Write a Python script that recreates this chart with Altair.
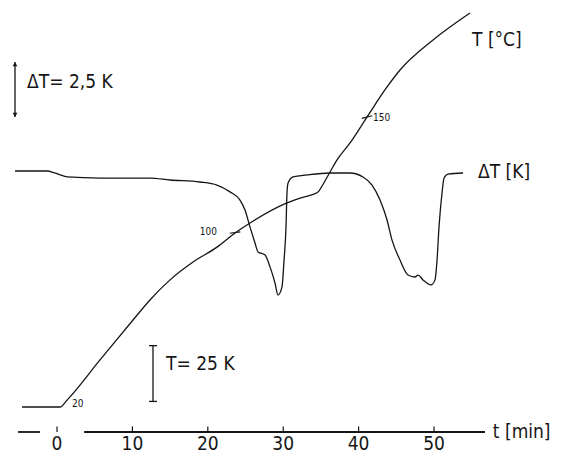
import altair as alt
import pandas as pd

# ---- data ----
# Temperature curve T [°C] versus time t [min]
t_T = [-4.64, 0.40, 1.33, 5.70, 10.08, 12.33, 14.99, 18.04, 21.22, 23.61, 25.60,
       30.50, 32.23, 34.62, 35.15, 36.21, 37.14, 38.86, 41.11, 43.77, 45.49, 49.87, 54.77]
T_vals = [20.0, 20.0, 23.1, 41.1, 59.0, 68.0, 77.0, 85.0, 91.7, 98.0, 102.5,
          111.5, 113.7, 116.4, 119.1, 125.4, 130.8, 138.4, 150.0, 163.5, 171.1, 184.6, 196.7]

# Differential temperature curve ΔT [K] versus time t [min]
t_dT = [-5.57, -1.33, -0.27, 1.33, 5.70, 12.33, 14.99, 18.96, 21.22, 22.94, 24.27,
        24.93, 25.60, 26.26, 26.66, 27.59, 28.25, 28.91, 29.31, 29.84, 30.11, 30.37,
        30.50, 30.64, 31.30, 33.16, 36.21, 38.86, 40.58, 41.78, 42.84, 43.77, 44.43,
        45.49, 46.55, 47.48, 47.88, 48.54, 49.60, 50.13, 50.40, 50.66, 51.06, 51.33,
        51.86, 53.85]
dT_vals = [0.0, 0.0, -0.09, -0.27, -0.32, -0.32, -0.41, -0.50, -0.64, -0.95, -1.32,
           -1.77, -2.55, -3.27, -3.68, -3.82, -4.36, -5.09, -5.64, -5.27, -4.05, -2.55,
           -1.00, -0.55, -0.27, -0.18, -0.09, -0.09, -0.27, -0.64, -1.32, -2.23, -3.14,
           -4.05, -4.73, -4.82, -4.73, -4.95, -5.18, -4.95, -4.05, -2.55, -1.00, -0.32,
           -0.14, -0.09]

# time axis
time_ticks = [0, 10, 20, 30, 40, 50]
time_tick_labels = ["0", "10", "20", "30", "40", "50"]

# temperature marks on the T curve
T_mark_t = [23.61, 41.11]
T_mark_T = [98.2, 150.0]
T_mark_labels = ["20", "100", "150"]

FONT = "Liberation Sans Narrow, DejaVu Sans Condensed, Liberation Sans, sans-serif"
INK = "#151515"

xs = alt.Scale(domain=[-6.50, 66.31], nice=False, zero=False)
Ts = alt.Scale(domain=[-0.63, 198.92], nice=False, zero=False)
dTs = alt.Scale(domain=[-12.82, 7.41], nice=False, zero=False)

X = lambda f: alt.X(f, type="quantitative", scale=xs, axis=None)
YT = lambda f: alt.Y(f, type="quantitative", scale=Ts, axis=None)
YD = lambda f: alt.Y(f, type="quantitative", scale=dTs, axis=None)

df_T = pd.DataFrame({"t": t_T, "T": T_vals})
df_dT = pd.DataFrame({"t": t_dT, "dT": dT_vals})

T_line = alt.Chart(df_T).mark_line(interpolate="monotone", color=INK, strokeWidth=1.3).encode(
    x=X("t"), y=YT("T"))
dT_line = alt.Chart(df_dT).mark_line(interpolate="monotone", color=INK, strokeWidth=1.3).encode(
    x=X("t"), y=YD("dT"))

# time axis (drawn in the T scale units)
axis_segs = pd.DataFrame({"t1": [-5.17, 3.6], "t2": [-2.25, 56.76], "y": [8.79, 8.79]})
axis_line = alt.Chart(axis_segs).mark_rule(color=INK, strokeWidth=1.8).encode(
    x=X("t1"), x2="t2", y=YT("y"))
tick_df = pd.DataFrame({"t": time_ticks, "y1": [8.79] * 6, "y2": [11.3] * 6,
                        "lab": time_tick_labels, "ly": [3.2] * 6})
axis_ticks = alt.Chart(tick_df).mark_rule(color=INK, strokeWidth=1.2).encode(
    x=X("t"), y=YT("y1"), y2="y2")
axis_labels = alt.Chart(tick_df).mark_text(font=FONT, fontSize=19, color=INK,
                                           align="center", baseline="middle").encode(
    x=X("t"), y=YT("ly"), text="lab:N")
axis_title = alt.Chart(pd.DataFrame({"t": [57.8], "y": [8.8], "s": ["t  [min]"]})).mark_text(
    font=FONT, fontSize=19, color=INK, align="left", baseline="middle").encode(
    x=X("t"), y=YT("y"), text="s:N")

# small marks across the T curve
mark_df = pd.DataFrame({"t1": [t - 0.7 for t in T_mark_t], "t2": [t + 0.7 for t in T_mark_t],
                        "y1": [T_mark_T[0] - 0.3, T_mark_T[1] - 0.6],
                        "y2": [T_mark_T[0] + 0.3, T_mark_T[1] + 0.6]})
T_marks = alt.Chart(mark_df).mark_rule(color=INK, strokeWidth=1.2).encode(
    x=X("t1"), x2="t2", y=YT("y1"), y2="y2")
T_lab_df = pd.DataFrame({"t": [1.99, 21.2, 41.9], "T": [21.3, 98.5, 149.8],
                         "s": T_mark_labels, "al": ["left", "right", "left"]})
T_labels_l = alt.Chart(T_lab_df[T_lab_df.al == "left"]).mark_text(
    font="DejaVu Sans Condensed, Liberation Sans", fontSize=10, color=INK, align="left",
    baseline="middle").encode(x=X("t"), y=YT("T"), text="s:N")
T_labels_r = alt.Chart(T_lab_df[T_lab_df.al == "right"]).mark_text(
    font="DejaVu Sans Condensed, Liberation Sans", fontSize=10, color=INK, align="right",
    baseline="middle").encode(x=X("t"), y=YT("T"), text="s:N")

# ΔT = 2.5 K scale arrow
arr_df = pd.DataFrame({"t": [-5.57], "y1": [2.45], "y2": [4.95]})
arrow_line = alt.Chart(arr_df).mark_rule(color=INK, strokeWidth=1.3).encode(
    x=X("t"), y=YD("y1"), y2="y2")
arrow_up = alt.Chart(pd.DataFrame({"t": [-5.57], "y": [4.85]})).mark_point(
    shape="triangle-up", filled=True, size=22, color=INK, opacity=1).encode(x=X("t"), y=YD("y"))
arrow_dn = alt.Chart(pd.DataFrame({"t": [-5.57], "y": [2.55]})).mark_point(
    shape="triangle-down", filled=True, size=22, color=INK, opacity=1).encode(x=X("t"), y=YD("y"))

# T = 25 K scale bar
bar_df = pd.DataFrame({"t": [12.73], "y1": [22.5], "y2": [47.5]})
bar_line = alt.Chart(bar_df).mark_rule(color=INK, strokeWidth=1.3).encode(
    x=X("t"), y=YT("y1"), y2="y2")
cap_df = pd.DataFrame({"t1": [12.2, 12.2], "t2": [13.26, 13.26], "y": [22.5, 47.5]})
bar_caps = alt.Chart(cap_df).mark_rule(color=INK, strokeWidth=1.3).encode(
    x=X("t1"), x2="t2", y=YT("y"))

# text annotations
txt_T_df = pd.DataFrame({"t": [14.46, 55.04], "y": [39.3, 184.6], "s": ["T= 25 K", "T [°C]"]})
txt_T = alt.Chart(txt_T_df).mark_text(font=FONT, fontSize=19, color=INK, align="left",
                                      baseline="middle").encode(x=X("t"), y=YT("y"), text="s:N")
txt_D_df = pd.DataFrame({"t": [-3.98, 55.84], "y": [4.05, -0.05], "s": ["ΔT= 2,5 K", "ΔT [K]"]})
txt_D = alt.Chart(txt_D_df).mark_text(font=FONT, fontSize=19, color=INK, align="left",
                                      baseline="middle").encode(x=X("t"), y=YD("y"), text="s:N")

chart = alt.layer(
    T_line, dT_line, axis_line, axis_ticks, axis_labels, axis_title, T_marks,
    T_labels_l, T_labels_r, arrow_line, arrow_up, arrow_dn, bar_line, bar_caps, txt_T, txt_D
).resolve_scale(y="independent").properties(
    width=549, height=445, autosize=alt.AutoSizeParams(type="none"), padding=0,
    background="white"
).configure_view(stroke=None)

chart.save("out.html", embed_options={"renderer": "svg", "actions": False})
